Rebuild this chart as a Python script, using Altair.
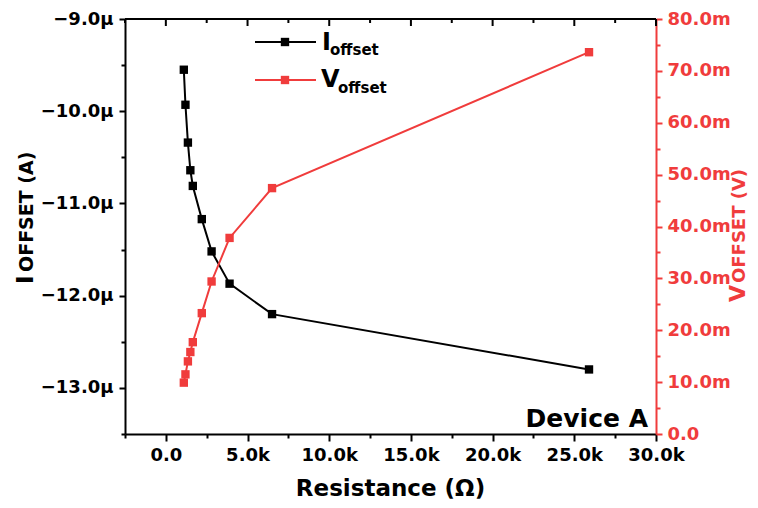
import altair as alt
import pandas as pd

# ---- data ----
resistance = [1100, 1200, 1350, 1500, 1650, 2200, 2800, 3900, 6500, 25900]      # ohm
i_offset = [-9.55, -9.93, -10.34, -10.64, -10.81, -11.17, -11.52, -11.87, -12.20, -12.80]  # µA
v_offset = [9.9, 11.5, 14.0, 15.8, 17.7, 23.3, 29.4, 37.8, 47.4, 73.6]          # mV

x_ticks = [-2500 + 2500 * k for k in range(14)]          # -2.5k .. 30k
i_ticks = [-13.5, -13.0, -12.5, -12.0, -11.5, -11.0, -10.5, -10.0, -9.5, -9.0]
v_ticks = [0, 5, 10, 15, 20, 25, 30, 35, 40, 45, 50, 55, 60, 65, 70, 75, 80]

FONT = "DejaVu Sans"
RED = "#F03C3C"
W, H = 531, 415

df = pd.DataFrame({"R": resistance, "I": i_offset, "V": v_offset})
top_df = pd.DataFrame({"R": x_ticks})
one = pd.DataFrame({"k": [0]})

xscale = alt.Scale(domain=[-2500, 30000], nice=False, zero=False)

x_axis = alt.Axis(
    values=x_ticks, title=None, grid=False,
    labelExpr="datum.value % 5000 === 0 ? (datum.value === 0 ? '0.0' : format(datum.value/1000, '.1f') + 'k') : ''",
    labelFont=FONT, labelFontWeight="bold", labelFontSize=18, labelColor="black",
    labelPadding=5, labelOverlap=False, labelFlush=False,
    domainColor="black", domainWidth=2, tickColor="black", tickWidth=2,
    tickSize={"condition": {"test": "datum.value % 5000 === 0", "value": 7}, "value": 4},
)

i_axis = alt.Axis(
    orient="left", values=i_ticks, title=None, grid=False,
    labelExpr="abs(datum.value % 1) < 0.01 ? format(datum.value, '.1f') + 'µ' : ''",
    labelFont=FONT, labelFontWeight="bold", labelFontSize=18, labelColor="black",
    labelPadding=6, labelOverlap=False, labelFlush=False,
    domainColor="black", domainWidth=2, tickColor="black", tickWidth=2,
    tickSize={"condition": {"test": "abs(datum.value % 1) < 0.01", "value": 6}, "value": 4},
)

v_axis = alt.Axis(
    orient="right", values=v_ticks, title=None, grid=False,
    labelExpr="datum.value % 10 === 0 ? (datum.value === 0 ? '0.0' : format(datum.value, '.1f') + 'm') : ''",
    labelFont=FONT, labelFontWeight="bold", labelFontSize=18, labelColor=RED,
    labelPadding=5, labelOverlap=False, labelFlush=False,
    domainColor=RED, domainWidth=2, tickColor=RED, tickWidth=2,
    tickSize={"condition": {"test": "datum.value % 10 === 0", "value": 6}, "value": 4},
)

X = alt.X("R:Q", scale=xscale, axis=x_axis)

black = alt.Chart(df).mark_line(
    color="black", strokeWidth=2,
    point=alt.OverlayMarkDef(shape="square", size=70, filled=True, color="black", opacity=1),
).encode(
    x=X,
    y=alt.Y("I:Q", scale=alt.Scale(domain=[-13.5, -9.0], nice=False, zero=False), axis=i_axis),
)

red = alt.Chart(df).mark_line(
    color=RED, strokeWidth=2,
    point=alt.OverlayMarkDef(shape="square", size=70, filled=True, color=RED, opacity=1),
).encode(
    x=X,
    y=alt.Y("V:Q", scale=alt.Scale(domain=[0, 80], nice=False, zero=False), axis=v_axis),
)

# top frame with inward ticks
top_line = alt.Chart(one).mark_rule(color="black", strokeWidth=2).encode(
    x=alt.value(0), x2=alt.value(W), y=alt.value(0))
top_major = alt.Chart(top_df).transform_filter("datum.R % 5000 === 0").mark_rule(
    color="black", strokeWidth=2).encode(x=X, y=alt.value(0), y2=alt.value(7))
top_minor = alt.Chart(top_df).transform_filter("datum.R % 5000 !== 0").mark_rule(
    color="black", strokeWidth=2).encode(x=X, y=alt.value(0), y2=alt.value(4))


def txt(s, x, y, size, color="black", angle=0, align="left", baseline="alphabetic"):
    return alt.Chart(one).mark_text(
        text=s, font=FONT, fontWeight="bold", fontSize=size, color=color,
        angle=angle, align=align, baseline=baseline,
    ).encode(x=alt.value(x), y=alt.value(y))


# legend
leg_black_line = alt.Chart(one).mark_rule(color="black", strokeWidth=2).encode(
    x=alt.value(130), x2=alt.value(191), y=alt.value(23))
leg_black_pt = alt.Chart(one).mark_point(shape="square", size=70, filled=True, color="black", opacity=1).encode(
    x=alt.value(160), y=alt.value(23))
leg_red_line = alt.Chart(one).mark_rule(color=RED, strokeWidth=2).encode(
    x=alt.value(130), x2=alt.value(191), y=alt.value(61))
leg_red_pt = alt.Chart(one).mark_point(shape="square", size=70, filled=True, color=RED, opacity=1).encode(
    x=alt.value(160), y=alt.value(61))

texts = [
    txt("I", 197, 31, 24),
    txt("offset", 205, 36, 15),
    txt("V", 196, 68, 24),
    txt("offset", 213, 74, 15),
    txt("Device A", 523, 408, 25, align="right"),
    txt("Resistance (Ω)", W / 2, 477, 23, align="center"),
    # left title
    txt("I", -92, 265, 23, angle=270),
    txt("OFFSET (A)", -92, 253, 19, angle=270),
    # right title
    txt("V", 620, 283, 22, color=RED, angle=270),
    txt("OFFSET (V)", 620, 264, 18, color=RED, angle=270),
]

chart = alt.layer(
    black, red, top_line, top_major, top_minor,
    leg_black_line, leg_black_pt, leg_red_line, leg_red_pt, *texts,
).resolve_scale(y="independent").properties(
    width=W, height=H,
    autosize=alt.AutoSizeParams(type="none"),
    padding={"left": 117, "top": 11, "right": 94, "bottom": 66},
).configure_view(stroke=None)

chart.save("out.html", embed_options={"renderer": "svg", "actions": False})
